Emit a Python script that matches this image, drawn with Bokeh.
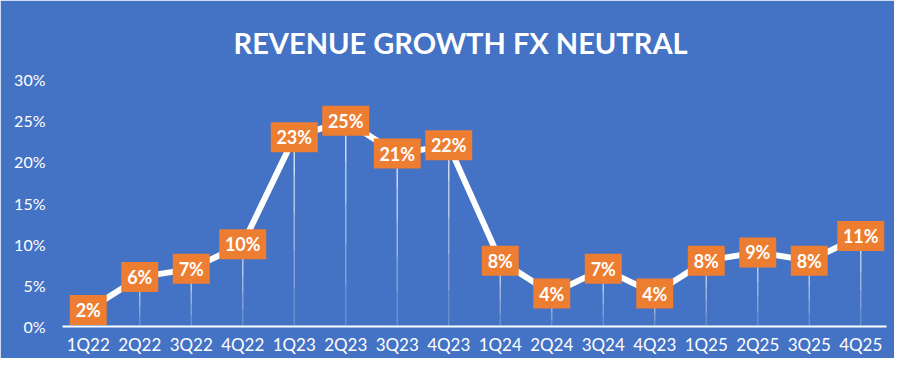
from bokeh.plotting import figure
from bokeh.models import Range1d, FixedTicker, ColumnDataSource
from bokeh.core.properties import value
from bokeh.embed import file_html
from bokeh.resources import INLINE

quarters = ["1Q22", "2Q22", "3Q22", "4Q22", "1Q23", "2Q23", "3Q23", "4Q23",
            "1Q24", "2Q24", "3Q24", "4Q23", "1Q25", "2Q25", "3Q25", "4Q25"]
growth = [2, 6, 7, 10, 23, 25, 21, 22, 8, 4, 7, 4, 8, 9, 8, 11]
y_ticks = [0, 5, 10, 15, 20, 25, 30]
title_text = "REVENUE GROWTH FX NEUTRAL"

BG = "#4472C4"
ORANGE = "#ED7D31"
FONT = "Lato"
FW, FH = 824, 247

xs = list(range(len(quarters)))
labels = [f"{v}%" for v in growth]
box_w = [37 if len(s) <= 2 else 47 for s in labels]
src = ColumnDataSource(dict(x=xs, y=growth, lab=labels, w=box_w))

p = figure(frame_width=FW, frame_height=FH, output_backend="svg", toolbar_location=None,
           x_range=Range1d(-0.5, len(quarters) - 0.5), y_range=Range1d(0, 30),
           min_border_left=62, min_border_right=8, min_border_top=79, min_border_bottom=32)
p.background_fill_color = BG
p.border_fill_color = BG
p.outline_line_color = BG
p.outline_line_width = 2
p.grid.visible = False

p.title.text = title_text
p.title.align = "left"
p.title.text_color = "white"
p.title.text_font = FONT
p.title.text_font_style = "bold"
p.title.text_font_size = "29px"
p.title.standoff = 40
p.title.offset = 171

# drop lines, fading towards the axis (drawn in stacked pieces)
pieces = 5
for k in range(pieces):
    f0, f1 = k / pieces, (k + 1) / pieces
    p.segment(x0=xs, y0=[v * f0 for v in growth], x1=xs, y1=[v * f1 for v in growth],
              line_color="white", line_alpha=0.2 + 0.13 * k, line_width=1.5)
# main line
p.line(x="x", y="y", source=src, line_color="white", line_width=6, line_join="round")
# label boxes
p.rect(x="x", y="y", width="w", height=30, width_units="screen", height_units="screen",
       source=src, fill_color=ORANGE, line_color=None)
p.text(x="x", y="y", text="lab", source=src, text_color="white", text_align="center",
       text_baseline="middle", text_font=value(FONT), text_font_style="bold",
       text_font_size="18px")

p.xaxis.ticker = FixedTicker(ticks=xs)
p.xaxis.major_label_overrides = {i: q for i, q in enumerate(quarters)}
p.xaxis.axis_line_color = "white"
p.xaxis.axis_line_width = 2
p.xaxis.major_tick_line_color = None
p.xaxis.minor_tick_line_color = None
p.xaxis.major_tick_out = 0
p.xaxis.minor_tick_out = 0
p.xaxis.major_label_text_color = "white"
p.xaxis.major_label_text_font = FONT
p.xaxis.major_label_text_font_size = "17px"
p.xaxis.major_label_standoff = 7

p.yaxis.ticker = FixedTicker(ticks=y_ticks)
p.yaxis.major_label_overrides = {t: f"{t}%" for t in y_ticks}
p.yaxis.axis_line_color = None
p.yaxis.major_tick_line_color = None
p.yaxis.minor_tick_line_color = None
p.yaxis.major_tick_out = 0
p.yaxis.minor_tick_out = 0
p.yaxis.major_label_text_color = "white"
p.yaxis.major_label_text_font = FONT
p.yaxis.major_label_text_font_size = "16px"
p.yaxis.major_label_standoff = 17

open("out.html", "w").write(file_html(p, INLINE))
